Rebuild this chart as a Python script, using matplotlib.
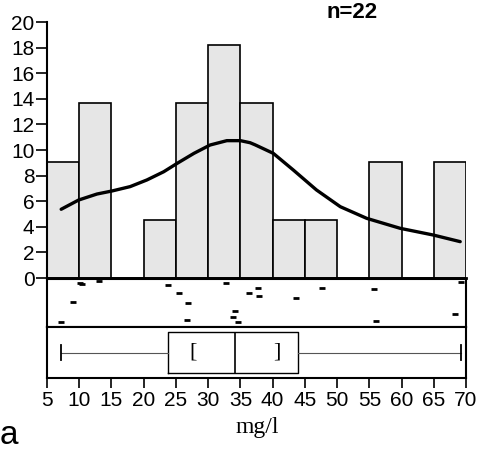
import matplotlib
matplotlib.use("Agg")
from matplotlib import pyplot as plt
import numpy as np

# Observed concentrations (mg/l) and their vertical jitter in the strip panel
values = [7.2, 9.0, 10.1, 10.4, 13.1, 23.8, 25.5, 26.8, 26.7, 32.7, 34.2,
          33.9, 34.7, 36.3, 37.8, 37.9, 43.7, 47.6, 55.8, 56.0, 68.3, 69.2]
jitter = [0.11, 0.53, 0.91, 0.90, 0.96, 0.87, 0.70, 0.49, 0.15, 0.91, 0.33,
          0.21, 0.11, 0.70, 0.82, 0.64, 0.60, 0.81, 0.79, 0.13, 0.28, 0.93]
bin_edges = list(range(5, 75, 5))

# Density curve (percent scale)
curve_x = [7.2, 9.9, 12.75, 15.1, 17.9, 20.5, 23.1, 25.2, 27.8, 30.3, 32.9,
           35.0, 36.5, 37.3, 40.1, 43.2, 46.8, 50.5, 54.6, 59.8, 64.9, 69.1]
curve_y = [5.37, 6.09, 6.56, 6.80, 7.14, 7.66, 8.30, 8.96, 9.74, 10.39, 10.73,
           10.73, 10.57, 10.4, 9.74, 8.44, 6.88, 5.57, 4.66, 3.88, 3.36, 2.84]

# Box plot summary
box_stats = dict(whislo=7.2, q1=23.8, med=34.2, q3=43.9, whishi=69.3)
mean_ci = (27.6, 40.6)

xticks = list(range(5, 75, 5))
yticks = list(range(0, 22, 2))

sans = ["Liberation Sans", "DejaVu Sans"]

fig = plt.figure(figsize=(4.79, 4.49), dpi=100)
W, H = 479.0, 449.0
left, right = 47 / W, 466 / W

def px_axes(top_px, bottom_px):
    return fig.add_axes([left, 1 - bottom_px / H, right - left,
                         (bottom_px - top_px) / H])

ax_hist = px_axes(22, 278)
ax_strip = px_axes(279, 327)
ax_box = px_axes(327, 378)

# Histogram in percent
weights = np.full(len(values), 100.0 / len(values))
ax_hist.hist(values, bins=bin_edges, weights=weights, color="#e6e6e6",
             edgecolor="black", linewidth=1.2)
ax_hist.plot(curve_x, curve_y, color="black", linewidth=2.4,
             solid_capstyle="round", solid_joinstyle="round")
ax_hist.set_xlim(5, 70)
ax_hist.set_ylim(0, 20)
ax_hist.set_yticks(yticks)
ax_hist.set_xticks([])
for s in ["top", "right"]:
    ax_hist.spines[s].set_visible(False)
ax_hist.spines["left"].set_linewidth(1.5)
ax_hist.spines["bottom"].set_linewidth(2)
ax_hist.tick_params(axis="y", direction="out", length=8, width=1.2, pad=1)
for lab in ax_hist.get_yticklabels():
    lab.set_family(sans)
    lab.set_fontsize(15)

# Strip of individual values
ax_strip.scatter(values, jitter, marker="_", s=22, color="black", linewidths=2)
ax_strip.set_xlim(5, 70)
ax_strip.set_ylim(0, 1)
ax_strip.set_xticks([])
ax_strip.set_yticks([])
for s in ax_strip.spines.values():
    s.set_linewidth(1.5)

# Box plot
ax_box.bxp([box_stats], vert=False, positions=[0.5], widths=0.82,
           capwidths=0.3, showfliers=False, manage_ticks=False,
           boxprops=dict(linewidth=1.0, color="black"),
           medianprops=dict(linewidth=1.2, color="black"),
           whiskerprops=dict(linewidth=0.8, color="#555555"),
           capprops=dict(linewidth=1.3, color="black"))
for xc, ch in zip(mean_ci, ["[", "]"]):
    ax_box.text(xc, 0.5, ch, ha="center", va="center", fontsize=16,
                family="Liberation Serif")
ax_box.set_xlim(5, 70)
ax_box.set_ylim(0, 1)
ax_box.set_yticks([])
ax_box.set_xticks(xticks)
for s in ax_box.spines.values():
    s.set_linewidth(1.5)
ax_box.tick_params(axis="x", direction="out", length=7, width=1.2, pad=2)
for lab in ax_box.get_xticklabels():
    lab.set_family(sans)
    lab.set_fontsize(15)

fig.text(257 / W, 1 - 428 / H, "mg/l", ha="center", va="center",
         fontsize=17, family="Liberation Serif")
fig.text(9 / W, 1 - 435 / H, "a", ha="center", va="center",
         fontsize=24, family=sans)
fig.text(352 / W, 1 - 2 / H, "n=22", ha="center", va="top",
         fontsize=16, fontweight="bold", family=sans)

fig.savefig("out.png", dpi=100)
